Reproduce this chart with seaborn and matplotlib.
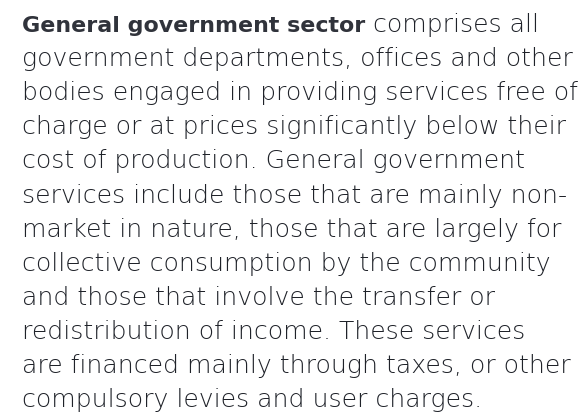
import matplotlib
matplotlib.use("Agg")
import matplotlib.pyplot as plt
import seaborn as sns

# --- texto del párrafo ---
BOLD_LEAD = "General government sector"
LINES = [
    " comprises all",
    "government departments, offices and other",
    "bodies engaged in providing services free of",
    "charge or at prices significantly below their",
    "cost of production. General government",
    "services include those that are mainly non-",
    "market in nature, those that are largely for",
    "collective consumption by the community",
    "and those that involve the transfer or",
    "redistribution of income. These services",
    "are financed mainly through taxes, or other",
    "compulsory levies and user charges.",
]

COLOR_TEXTO = "#1f2229"
COLOR_NEGRITA = "#30333b"
FUENTE = "DejaVu Sans"

sns.set_theme(style="white")
plt.rcParams["font.family"] = [FUENTE]

W, H = 587, 418
fig = plt.figure(figsize=(W / 100, H / 100), dpi=100)
fig.patch.set_facecolor("white")

x0 = 22
y0 = 32
paso = 34.1
ancho_linea2 = 551   # ancho medido de la segunda línea
ancho_negrita = 344  # ancho medido de "General government sector"

renderer = fig.canvas.get_renderer()


def ancho(texto, peso):
    t = fig.text(0, 0, texto, fontsize=16, fontweight=peso)
    w = t.get_window_extent(renderer=renderer).width
    t.remove()
    return w


TAMANO = 16 * ancho_linea2 / ancho(LINES[1], "light")
TAMANO_NEGRITA = 16 * ancho_negrita / ancho(BOLD_LEAD, "bold")

for i, linea in enumerate(LINES):
    y = 1 - (y0 + i * paso) / H
    x = x0 / W
    if i == 0:
        t = fig.text(x, y, BOLD_LEAD, fontsize=TAMANO_NEGRITA, fontweight="bold",
                     color=COLOR_NEGRITA, va="baseline", ha="left")
        bb = t.get_window_extent(renderer=renderer)
        x = bb.x1 / W
    fig.text(x, y, linea, fontsize=TAMANO, fontweight="light",
             color=COLOR_TEXTO, va="baseline", ha="left")

fig.savefig("out.png", dpi=100, facecolor="white")
